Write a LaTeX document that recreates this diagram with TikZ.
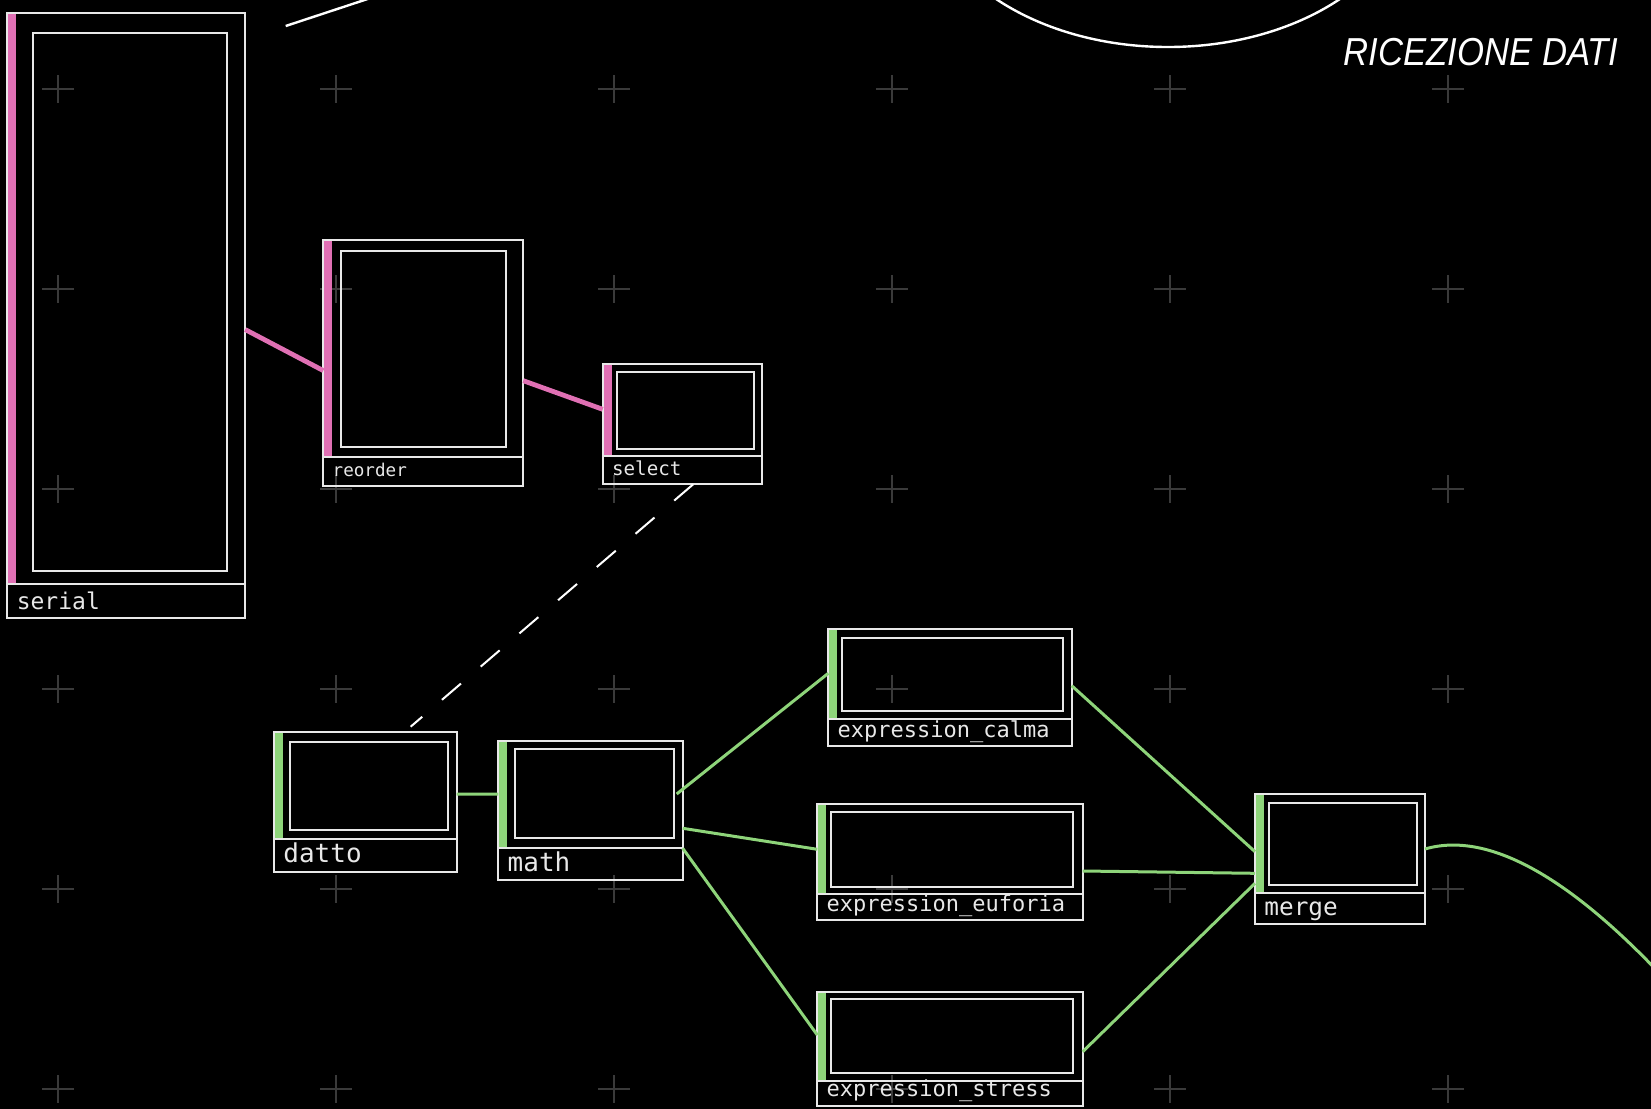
\documentclass[tikz,border=0pt]{standalone}
\usepackage{fontspec}
\setmainfont{Liberation Sans}
\newfontfamily\monofont{DejaVu Sans Mono}
\usetikzlibrary{fit,calc}
\definecolor{pinkc}{HTML}{E070B4}
\definecolor{greenc}{HTML}{8ED47A}
\definecolor{boxc}{HTML}{E8E8E8}
\definecolor{crossc}{HTML}{3A3A3A}
\tikzset{
 box/.style={draw=boxc, line width=1pt, inner sep=0pt, outer sep=0pt},
 boxline/.style={draw=boxc, line width=1pt},
 lbl/.style={anchor=base west, inner sep=0pt, text=boxc, font=\monofont},
 pinkwire/.style={draw=pinkc, line width=2.4pt},
 greenwire/.style={draw=greenc, line width=1.5pt},
 dashwire/.style={draw=white, line width=1pt, dash pattern=on 12.5pt off 13pt},
 crossmark/.style={draw=crossc, line width=0.75pt},
 arcline/.style={draw=white, line width=1.2pt},
}
% #1 name, #2 x1, #3 y1, #4 x2, #5 y2, #6 divider y, #7 inner corners, #8 colour, #9 label
\newcommand{\mkpdobj}[9]{%
 \fill[#8] (#2,#3) rectangle ({#2+9},#6);
 \node[box, fit={(#2,#3) (#4,#5)}] (#1) {};
 \node[box, fit={#7}] (#1-in) {};
 \draw[boxline] (#2,#6) -- (#4,#6);
 \node[lbl] (#1-lbl) at ($(#1.south west)+(9,-9)$) {#9};
}
\begin{document}
\begin{tikzpicture}[x=0.5pt,y=-0.5pt]
\fill[black] (0,0) rectangle (1651,1109);
\useasboundingbox (0,0) rectangle (1651,1109);
\clip (0,0) rectangle (1651,1109);

% grid crosses
\foreach \cx in {58,336,614,892,1170,1448}{
 \foreach \cy in {89,289,489,689,889,1089}{
  \draw[crossmark] ({\cx-16},\cy) -- ({\cx+16},\cy) (\cx,{\cy-14}) -- (\cx,{\cy+14});
 }}

% top decorations
\coordinate (tl1) at (285.7,26);
\coordinate (tl2) at (410,-15);
\draw[arcline] (tl1) -- (tl2);
\draw[arcline] (1168,-120) ellipse [x radius=122.5pt, y radius=83.5pt];
\node[anchor=base west, inner sep=0pt, text=white, font=\fontsize{19.5}{21}\selectfont\itshape] (title) at (1343,65) {\scalebox{0.89}[1]{RICEZIONE DATI}};

% objects
\mkpdobj{serial}{7.4}{12.6}{245.3}{618}{584.4}{(32.6,32.6) (227.4,570.7)}{pinkc}{\fontsize{11.5}{12}\selectfont serial}
\mkpdobj{reorder}{323.3}{240}{523.3}{485.7}{457.3}{(341,250.7) (506,446.7)}{pinkc}{\fontsize{8.8}{9}\selectfont reorder}
\mkpdobj{select}{602.7}{364}{761.7}{484.3}{456}{(616.7,372.3) (754,448.7)}{pinkc}{\fontsize{9.6}{10}\selectfont select}
\mkpdobj{datto}{274}{731.7}{456.7}{871.7}{839}{(290,741.7) (447.7,830)}{greenc}{\fontsize{13}{14}\selectfont datto}
\mkpdobj{math}{498.3}{740.7}{682.7}{880}{847.7}{(515,749.3) (674,838.3)}{greenc}{\fontsize{13}{14}\selectfont math}
\mkpdobj{calma}{828.3}{629.3}{1071.7}{746}{719.3}{(842.3,637.7) (1062.7,710.7)}{greenc}{\fontsize{11}{12}\selectfont expression\_calma}
\mkpdobj{euforia}{817.3}{804}{1082.7}{920}{894}{(830.7,811.7) (1073.3,886.7)}{greenc}{\fontsize{11}{12}\selectfont expression\_euforia}
\mkpdobj{stress}{817.3}{991.7}{1082.7}{1105.5}{1080.7}{(830.7,999) (1073.3,1072.7)}{greenc}{\fontsize{11}{12}\selectfont expression\_stress}
\mkpdobj{merge}{1255}{794}{1425}{924}{893.3}{(1269.3,802.7) (1416.7,885)}{greenc}{\fontsize{12.2}{13}\selectfont merge}

% pink connectors
\draw[pinkwire] ($(serial.north east)+(0,317)$) -- ($(reorder.north west)+(0,130.6)$);
\draw[pinkwire] ($(reorder.north east)+(0,140.7)$) -- ($(select.north west)+(0,45.3)$);

% dashed connector
\draw[dashwire] ($(select.south)+(11,0)$) -- ($(datto.north)+(45.3,-5)$);

% green connectors
\draw[greenwire] ($(datto.north east)+(0,62.3)$) -- ($(math.north west)+(0,53.3)$);
\draw[greenwire] ($(math.north east)+(-6,53.3)$) -- ($(calma.north west)+(0,44)$);
\draw[greenwire] ($(math.north east)+(0,87.6)$) -- ($(euforia.north west)+(0,45.3)$);
\draw[greenwire] ($(math.north east)+(0,107.6)$) -- ($(stress.north west)+(0,43.3)$);
\draw[greenwire] ($(calma.north east)+(0,56.4)$) -- ($(merge.north west)+(0,57.7)$);
\draw[greenwire] ($(euforia.north east)+(0,67)$) -- ($(merge.north west)+(0,79.3)$);
\draw[greenwire] ($(stress.north east)+(0,60)$) -- ($(merge.north west)+(0,89.3)$);
\coordinate (outend) at (1675,990);
\draw[greenwire] ($(merge.north east)+(0,55)$) .. controls (1490,830) and (1575,880) .. (outend);
\end{tikzpicture}
\end{document}
